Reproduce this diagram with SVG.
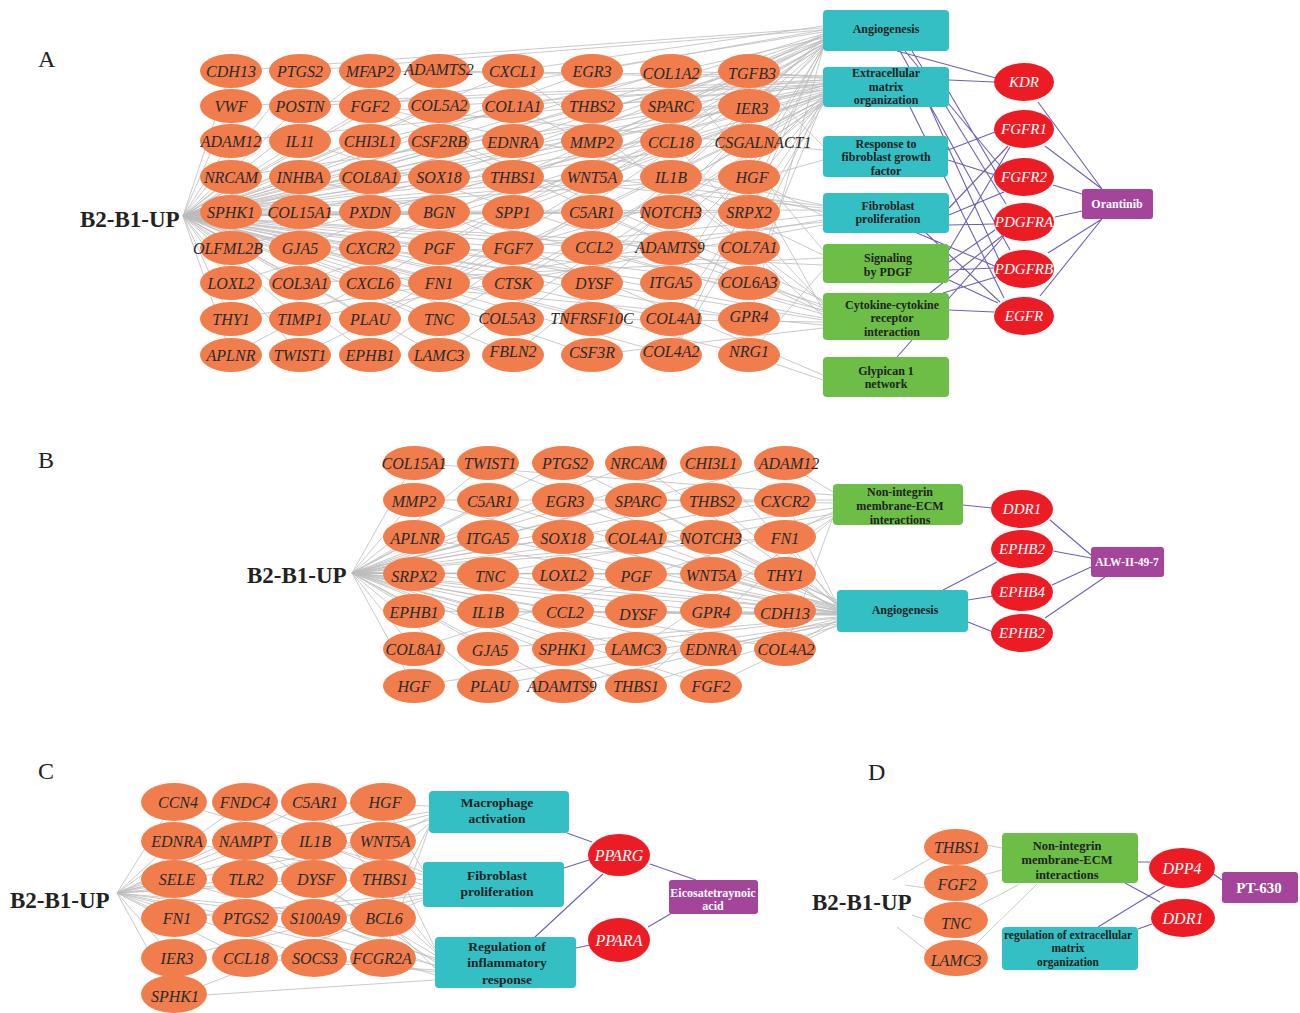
<svg xmlns="http://www.w3.org/2000/svg" width="1300" height="1013" viewBox="0 0 1300 1013">
<style>
.e{stroke:#bdbdbd;stroke-width:.8;fill:none}
.p{stroke:#6c61b8;stroke-width:1.1;fill:none}
.o{fill:#F27D4C}
.r{fill:#ED1C24}
.t{fill:#33BFC3}
.gr{fill:#6CBE46}
.pu{fill:#A4449A}
.gt{font-family:'Liberation Serif',serif;font-style:italic;font-size:16px;fill:#2a2a2a;text-anchor:middle;dominant-baseline:central}
.rt{font-family:'Liberation Serif',serif;font-style:italic;font-size:15px;fill:#fff;text-anchor:middle;dominant-baseline:central}
.bt{font-family:'Liberation Serif',serif;font-weight:bold;font-size:12px;fill:#222;text-anchor:middle}
.wt{font-family:'Liberation Serif',serif;font-weight:bold;font-size:12px;fill:#fff;text-anchor:middle}
.hub{font-family:'Liberation Serif',serif;font-weight:bold;font-size:23px;fill:#222}
.pl{font-family:'Liberation Serif',serif;font-size:24px;fill:#222}
</style>
<rect width="1300" height="1013" fill="#fff"/>
<g id="connectors">
<path class="e" d="M183 216L231 71M183 216L231 106M183 216L231 141M183 216L231 177M183 216L231 212M183 216L231 248M183 216L231 283M183 216L231 319M183 216L231 355M183 216L300 71M183 216L300 106M183 216L300 141M183 216L300 177M183 216L300 212M183 216L300 248M183 216L300 283M183 216L300 319M183 216L300 355M183 216L370 71M183 216L370 106M183 216L370 141M183 216L370 177M183 216L370 212M183 216L370 248M183 216L370 283M183 216L370 319M183 216L370 355M183 216L439 71M183 216L439 106M183 216L439 141M183 216L439 177M183 216L439 212M183 216L439 248M183 216L439 283M183 216L439 319M183 216L439 355M183 216L513 71M183 216L513 106M183 216L513 141M183 216L513 177M183 216L513 212M183 216L513 248M183 216L513 283M183 216L513 319M183 216L513 355M183 216L592 71M183 216L592 106M183 216L592 141M183 216L592 177M183 216L592 212M183 216L592 248M183 216L592 283M183 216L592 319M183 216L592 355M183 216L671 71M183 216L671 106M183 216L671 141M183 216L671 177M183 216L671 212M183 216L671 248M183 216L671 283M183 216L671 319M183 216L671 355M183 216L749 71M183 216L749 106M183 216L749 141M183 216L749 177M183 216L749 212M183 216L749 248M183 216L749 283M183 216L749 319M183 216L749 355"/>
<path class="e" d="M231 71L823 28M231 106L823 80M231 141L823 84M231 177L823 90M231 212L823 34M231 212L823 210M231 248L823 94M231 283L823 98M231 319L823 220M231 355L823 40M300 71L823 30M300 106L823 82M300 141L823 305M300 177L823 310M300 212L823 88M300 248L823 36M300 283L823 95M300 283L823 258M300 319L823 225M300 355L823 100M370 71L823 78M370 106L823 32M370 106L823 150M370 106L823 205M370 106L823 300M370 141L823 38M370 177L823 86M370 212L823 92M370 248L823 42M370 248L823 320M370 283L823 325M370 319L823 44M370 355L823 46M439 71L823 76M439 106L823 84M439 141L823 312M439 177L823 40M439 212L823 96M439 212L823 375M439 248L823 45M439 248L823 265M439 248L823 318M439 283L823 47M439 283L823 100M439 319L823 102M439 355L823 104M513 71L823 302M513 71L823 26M513 106L823 80M513 106L823 255M513 141L823 36M513 177L823 40M513 177L823 208M513 212L823 94M513 248L823 160M513 248L823 215M513 283L823 98M513 319L823 102M513 355L823 104M592 71L823 30M592 106L823 86M592 141L823 90M592 141L823 42M592 177L823 206M592 177L823 44M592 212L823 308M592 248L823 46M592 248L823 314M592 248L823 222M592 283L823 48M592 319L823 322M592 355L823 328M671 71L823 76M671 71L823 250M671 106L823 84M671 106L823 36M671 141L823 304M671 177L823 38M671 177L823 212M671 177L823 316M671 212L823 45M671 248L823 96M671 283L823 48M671 283L823 100M671 319L823 102M671 355L823 105M671 355L823 49M749 71L823 34M749 71L823 78M749 71L823 146M749 106L823 40M749 106L823 86M749 141L823 92M749 177L823 46M749 177L823 216M749 177L823 310M749 212L823 48M749 248L823 98M749 283L823 101M749 319L823 49M749 355L823 270M749 355L823 380"/>
<path class="p" d="M1038 102L1102 189M1045 146L1102 189M1053 185L1082 194M1055 217L1082 211M1048 253L1102 219M1040 296L1102 219M897 51L996 78M905 51L1002 168M912 51L1006 204M900 51L1010 250M949 80L994 82M949 92L996 172M910 107L1004 298M930 107L1000 262M948 150L995 132M948 160L995 175M949 208L1008 146M949 225L994 224M949 215L1004 192M917 233L997 267M926 233L1000 302M949 250L1010 147M949 262L995 230M949 270L994 268M949 280L998 303M943 293L996 277M930 293L1002 236M949 310L994 312M897 357L1004 236"/>
<path class="e" d="M352 573L414 463M352 573L414 500M352 573L414 537M352 573L414 574M352 573L414 611M352 573L414 649M352 573L414 686M352 573L488 463M352 573L488 500M352 573L488 537M352 573L488 574M352 573L488 611M352 573L488 649M352 573L488 686M352 573L563 463M352 573L563 500M352 573L563 537M352 573L563 574M352 573L563 611M352 573L563 649M352 573L563 686M352 573L636 463M352 573L636 500M352 573L636 537M352 573L636 574M352 573L636 611M352 573L636 649M352 573L636 686M352 573L711 463M352 573L711 500M352 573L711 537M352 573L711 574M352 573L711 611M352 573L711 649M352 573L711 686M352 573L785 463M352 573L785 500M352 573L785 537M352 573L785 574M352 573L785 611M352 573L785 649"/>
<path class="e" d="M414 463L833 495M488 463L837 600M563 463L837 602M636 463L837 604M711 463L837 603M785 463L833 492M414 500L833 500M414 500L837 606M488 500L837 608M563 500L837 606M636 500L833 503M636 500L837 608M711 500L837 605M785 500L837 604M414 537L837 610M488 537L837 611M563 537L837 609M636 537L833 508M636 537L837 610M711 537L837 609M785 537L833 512M785 537L837 607M414 574L837 612M488 574L833 514M488 574L837 613M563 574L837 612M636 574L837 613M711 574L837 611M785 574L837 612M414 611L837 615M488 611L837 614M563 611L837 615M636 611L837 614M711 611L837 614M785 611L837 613M414 649L833 516M488 649L837 617M563 649L837 618M636 649L833 518M711 649L837 619M785 649L833 517M785 649L837 620M414 686L837 622M488 686L837 624M563 686L837 622M636 686L833 519M636 686L837 626M711 686L837 625"/>
<path class="p" d="M963 505L992 508M1050 520L1091 555M1053 551L1091 558M1052 585L1091 567M1045 618L1105 577M943 590L997 562M968 600L993 596M968 622L993 632"/>
<path class="e" d="M117 893L174 802M117 893L174 841M117 893L174 879M117 893L174 918M117 893L174 958M117 893L174 997M117 893L245 802M117 893L245 841M117 893L245 879M117 893L245 918M117 893L245 958M117 893L314 802M117 893L314 841M117 893L314 879M117 893L314 918M117 893L314 958M117 893L383 802M117 893L383 841M117 893L383 879M117 893L383 918M117 893L383 958"/>
<path class="e" d="M174 802L423 875M245 802L423 872M314 802L429 806M314 802L435 950M383 802L423 870M174 841L423 880M245 841L429 812M245 841L435 955M314 841L429 815M314 841L423 885M314 841L435 952M383 841L435 948M383 841L429 818M174 879L435 958M245 879L429 820M245 879L435 960M314 879L435 962M383 879L423 890M174 918L423 893M245 918L435 965M245 918L423 895M314 918L429 824M314 918L435 966M383 918L435 968M383 918L429 826M174 958L423 898M245 958L435 970M314 958L435 972M383 958L429 828M383 958L435 975M174 997L423 900M174 997L435 980"/>
<path class="p" d="M567 833L592 842M564 868L589 860M535 937L603 874M576 948L590 945M650 864L696 880M648 927L672 913"/>
<path class="e" d="M893 880L933 857M905 885L926 888M912 915L927 920M897 927L930 953M986 845L1002 848M983 875L1002 870M978 906L1020 884M975 945L1037 884"/>
<path class="p" d="M1138 862L1150 862M1125 883L1160 902M1098 927L1165 886M1138 929L1152 924M1212 873L1222 880"/>
</g>
<g id="labels">
<text class="pl" x="38" y="67">A</text>
<text class="pl" x="38" y="468">B</text>
<text class="pl" x="38" y="779">C</text>
<text class="pl" x="868" y="780">D</text>
</g>
<!-- Panel A -->
<g id="a-hub"><text class="hub" x="80" y="227">B2-B1-UP</text></g>
<g id="a-CDH13"><ellipse class="o" cx="231" cy="71" rx="31" ry="17"/><text class="gt" x="231" y="71">CDH13</text></g>
<g id="a-VWF"><ellipse class="o" cx="231" cy="106" rx="31" ry="17"/><text class="gt" x="231" y="106">VWF</text></g>
<g id="a-ADAM12"><ellipse class="o" cx="231" cy="141" rx="31" ry="17"/><text class="gt" x="231" y="141">ADAM12</text></g>
<g id="a-NRCAM"><ellipse class="o" cx="231" cy="177" rx="31" ry="17"/><text class="gt" x="231" y="177">NRCAM</text></g>
<g id="a-SPHK1"><ellipse class="o" cx="231" cy="212" rx="31" ry="17"/><text class="gt" x="231" y="212">SPHK1</text></g>
<g id="a-OLFML2B"><ellipse class="o" cx="231" cy="248" rx="31" ry="17"/><text class="gt" x="228" y="248">OLFML2B</text></g>
<g id="a-LOXL2"><ellipse class="o" cx="231" cy="283" rx="31" ry="17"/><text class="gt" x="231" y="283">LOXL2</text></g>
<g id="a-THY1"><ellipse class="o" cx="231" cy="319" rx="31" ry="17"/><text class="gt" x="231" y="319">THY1</text></g>
<g id="a-APLNR"><ellipse class="o" cx="231" cy="355" rx="31" ry="17"/><text class="gt" x="231" y="355">APLNR</text></g>
<g id="a-PTGS2"><ellipse class="o" cx="300" cy="71" rx="31" ry="17"/><text class="gt" x="300" y="71">PTGS2</text></g>
<g id="a-POSTN"><ellipse class="o" cx="300" cy="106" rx="31" ry="17"/><text class="gt" x="300" y="106">POSTN</text></g>
<g id="a-IL11"><ellipse class="o" cx="300" cy="141" rx="31" ry="17"/><text class="gt" x="300" y="141">IL11</text></g>
<g id="a-INHBA"><ellipse class="o" cx="300" cy="177" rx="31" ry="17"/><text class="gt" x="300" y="177">INHBA</text></g>
<g id="a-COL15A1"><ellipse class="o" cx="300" cy="212" rx="31" ry="17"/><text class="gt" x="300" y="212">COL15A1</text></g>
<g id="a-GJA5"><ellipse class="o" cx="300" cy="248" rx="31" ry="17"/><text class="gt" x="300" y="248">GJA5</text></g>
<g id="a-COL3A1"><ellipse class="o" cx="300" cy="283" rx="31" ry="17"/><text class="gt" x="300" y="283">COL3A1</text></g>
<g id="a-TIMP1"><ellipse class="o" cx="300" cy="319" rx="31" ry="17"/><text class="gt" x="300" y="319">TIMP1</text></g>
<g id="a-TWIST1"><ellipse class="o" cx="300" cy="355" rx="31" ry="17"/><text class="gt" x="300" y="355">TWIST1</text></g>
<g id="a-MFAP2"><ellipse class="o" cx="370" cy="71" rx="31" ry="17"/><text class="gt" x="370" y="71">MFAP2</text></g>
<g id="a-FGF2"><ellipse class="o" cx="370" cy="106" rx="31" ry="17"/><text class="gt" x="370" y="106">FGF2</text></g>
<g id="a-CHI3L1"><ellipse class="o" cx="370" cy="141" rx="31" ry="17"/><text class="gt" x="370" y="141">CHI3L1</text></g>
<g id="a-COL8A1"><ellipse class="o" cx="370" cy="177" rx="31" ry="17"/><text class="gt" x="370" y="177">COL8A1</text></g>
<g id="a-PXDN"><ellipse class="o" cx="370" cy="212" rx="31" ry="17"/><text class="gt" x="370" y="212">PXDN</text></g>
<g id="a-CXCR2"><ellipse class="o" cx="370" cy="248" rx="31" ry="17"/><text class="gt" x="370" y="248">CXCR2</text></g>
<g id="a-CXCL6"><ellipse class="o" cx="370" cy="283" rx="31" ry="17"/><text class="gt" x="370" y="283">CXCL6</text></g>
<g id="a-PLAU"><ellipse class="o" cx="370" cy="319" rx="31" ry="17"/><text class="gt" x="370" y="319">PLAU</text></g>
<g id="a-EPHB1"><ellipse class="o" cx="370" cy="355" rx="31" ry="17"/><text class="gt" x="370" y="355">EPHB1</text></g>
<g id="a-ADAMTS2"><ellipse class="o" cx="439" cy="71" rx="31" ry="17"/><text class="gt" x="439" y="69">ADAMTS2</text></g>
<g id="a-COL5A2"><ellipse class="o" cx="439" cy="106" rx="31" ry="17"/><text class="gt" x="439" y="105">COL5A2</text></g>
<g id="a-CSF2RB"><ellipse class="o" cx="439" cy="141" rx="31" ry="17"/><text class="gt" x="439" y="141">CSF2RB</text></g>
<g id="a-SOX18"><ellipse class="o" cx="439" cy="177" rx="31" ry="17"/><text class="gt" x="439" y="177">SOX18</text></g>
<g id="a-BGN"><ellipse class="o" cx="439" cy="212" rx="31" ry="17"/><text class="gt" x="439" y="212">BGN</text></g>
<g id="a-PGF"><ellipse class="o" cx="439" cy="248" rx="31" ry="17"/><text class="gt" x="439" y="248">PGF</text></g>
<g id="a-FN1"><ellipse class="o" cx="439" cy="283" rx="31" ry="17"/><text class="gt" x="439" y="283">FN1</text></g>
<g id="a-TNC"><ellipse class="o" cx="439" cy="319" rx="31" ry="17"/><text class="gt" x="439" y="319">TNC</text></g>
<g id="a-LAMC3"><ellipse class="o" cx="439" cy="355" rx="31" ry="17"/><text class="gt" x="439" y="355">LAMC3</text></g>
<g id="a-CXCL1"><ellipse class="o" cx="513" cy="71" rx="31" ry="17"/><text class="gt" x="513" y="71">CXCL1</text></g>
<g id="a-COL1A1"><ellipse class="o" cx="513" cy="106" rx="31" ry="17"/><text class="gt" x="513" y="106">COL1A1</text></g>
<g id="a-EDNRA"><ellipse class="o" cx="513" cy="141" rx="31" ry="17"/><text class="gt" x="513" y="142">EDNRA</text></g>
<g id="a-THBS1"><ellipse class="o" cx="513" cy="177" rx="31" ry="17"/><text class="gt" x="513" y="177">THBS1</text></g>
<g id="a-SPP1"><ellipse class="o" cx="513" cy="212" rx="31" ry="17"/><text class="gt" x="513" y="212">SPP1</text></g>
<g id="a-FGF7"><ellipse class="o" cx="513" cy="248" rx="31" ry="17"/><text class="gt" x="513" y="248">FGF7</text></g>
<g id="a-CTSK"><ellipse class="o" cx="513" cy="283" rx="31" ry="17"/><text class="gt" x="513" y="283">CTSK</text></g>
<g id="a-COL5A3"><ellipse class="o" cx="513" cy="319" rx="31" ry="17"/><text class="gt" x="507" y="318">COL5A3</text></g>
<g id="a-FBLN2"><ellipse class="o" cx="513" cy="355" rx="31" ry="17"/><text class="gt" x="513" y="351">FBLN2</text></g>
<g id="a-EGR3"><ellipse class="o" cx="592" cy="71" rx="31" ry="17"/><text class="gt" x="592" y="71">EGR3</text></g>
<g id="a-THBS2"><ellipse class="o" cx="592" cy="106" rx="31" ry="17"/><text class="gt" x="592" y="106">THBS2</text></g>
<g id="a-MMP2"><ellipse class="o" cx="592" cy="141" rx="31" ry="17"/><text class="gt" x="592" y="142">MMP2</text></g>
<g id="a-WNT5A"><ellipse class="o" cx="592" cy="177" rx="31" ry="17"/><text class="gt" x="592" y="177">WNT5A</text></g>
<g id="a-C5AR1"><ellipse class="o" cx="592" cy="212" rx="31" ry="17"/><text class="gt" x="592" y="212">C5AR1</text></g>
<g id="a-CCL2"><ellipse class="o" cx="592" cy="248" rx="31" ry="17"/><text class="gt" x="594" y="247">CCL2</text></g>
<g id="a-DYSF"><ellipse class="o" cx="592" cy="283" rx="31" ry="17"/><text class="gt" x="594" y="283">DYSF</text></g>
<g id="a-TNFRSF10C"><ellipse class="o" cx="592" cy="319" rx="31" ry="17"/><text class="gt" x="592" y="318">TNFRSF10C</text></g>
<g id="a-CSF3R"><ellipse class="o" cx="592" cy="355" rx="31" ry="17"/><text class="gt" x="592" y="352">CSF3R</text></g>
<g id="a-COL1A2"><ellipse class="o" cx="671" cy="71" rx="31" ry="17"/><text class="gt" x="671" y="73">COL1A2</text></g>
<g id="a-SPARC"><ellipse class="o" cx="671" cy="106" rx="31" ry="17"/><text class="gt" x="671" y="106">SPARC</text></g>
<g id="a-CCL18"><ellipse class="o" cx="671" cy="141" rx="31" ry="17"/><text class="gt" x="671" y="142">CCL18</text></g>
<g id="a-IL1B"><ellipse class="o" cx="671" cy="177" rx="31" ry="17"/><text class="gt" x="671" y="177">IL1B</text></g>
<g id="a-NOTCH3"><ellipse class="o" cx="671" cy="212" rx="31" ry="17"/><text class="gt" x="671" y="212">NOTCH3</text></g>
<g id="a-ADAMTS9"><ellipse class="o" cx="671" cy="248" rx="31" ry="17"/><text class="gt" x="670" y="247">ADAMTS9</text></g>
<g id="a-ITGA5"><ellipse class="o" cx="671" cy="283" rx="31" ry="17"/><text class="gt" x="671" y="282">ITGA5</text></g>
<g id="a-COL4A1"><ellipse class="o" cx="671" cy="319" rx="31" ry="17"/><text class="gt" x="674" y="318">COL4A1</text></g>
<g id="a-COL4A2"><ellipse class="o" cx="671" cy="355" rx="31" ry="17"/><text class="gt" x="671" y="351">COL4A2</text></g>
<g id="a-TGFB3"><ellipse class="o" cx="749" cy="71" rx="31" ry="17"/><text class="gt" x="752" y="73">TGFB3</text></g>
<g id="a-IER3"><ellipse class="o" cx="749" cy="106" rx="31" ry="17"/><text class="gt" x="752" y="108">IER3</text></g>
<g id="a-CSGALNACT1"><ellipse class="o" cx="749" cy="141" rx="31" ry="17"/><text class="gt" x="763" y="142">CSGALNACT1</text></g>
<g id="a-HGF"><ellipse class="o" cx="749" cy="177" rx="31" ry="17"/><text class="gt" x="752" y="177">HGF</text></g>
<g id="a-SRPX2"><ellipse class="o" cx="749" cy="212" rx="31" ry="17"/><text class="gt" x="749" y="212">SRPX2</text></g>
<g id="a-COL7A1"><ellipse class="o" cx="749" cy="248" rx="31" ry="17"/><text class="gt" x="749" y="247">COL7A1</text></g>
<g id="a-COL6A3"><ellipse class="o" cx="749" cy="283" rx="31" ry="17"/><text class="gt" x="749" y="282">COL6A3</text></g>
<g id="a-GPR4"><ellipse class="o" cx="749" cy="319" rx="31" ry="17"/><text class="gt" x="749" y="316">GPR4</text></g>
<g id="a-NRG1"><ellipse class="o" cx="749" cy="355" rx="31" ry="17"/><text class="gt" x="749" y="351">NRG1</text></g>
<g id="a-angiogenesis"><rect class="t" x="823" y="10" width="126" height="41" rx="4"/><text class="bt" x="886" y="33">Angiogenesis</text></g>
<g id="a-ecm"><rect class="t" x="823" y="67" width="126" height="40" rx="4"/><text class="bt"><tspan x="886" y="77">Extracellular</tspan><tspan x="886" y="91">matrix</tspan><tspan x="886" y="104">organization</tspan></text></g>
<g id="a-rfgf"><rect class="t" x="823" y="136" width="125" height="41" rx="4"/><text class="bt"><tspan x="886" y="148">Response to</tspan><tspan x="886" y="161">fibroblast growth</tspan><tspan x="886" y="175">factor</tspan></text></g>
<g id="a-fp"><rect class="t" x="823" y="193" width="126" height="40" rx="4"/><text class="bt"><tspan x="888" y="210">Fibroblast</tspan><tspan x="888" y="223">proliferation</tspan></text></g>
<g id="a-pdgf"><rect class="gr" x="823" y="244" width="126" height="39" rx="4"/><text class="bt"><tspan x="888" y="262">Signaling</tspan><tspan x="888" y="276">by PDGF</tspan></text></g>
<g id="a-ccr"><rect class="gr" x="823" y="293" width="126" height="47" rx="4"/><text class="bt"><tspan x="892" y="309">Cytokine-cytokine</tspan><tspan x="892" y="322">receptor</tspan><tspan x="892" y="336">interaction</tspan></text></g>
<g id="a-glypican"><rect class="gr" x="823" y="357" width="126" height="40" rx="4"/><text class="bt"><tspan x="886" y="375">Glypican 1</tspan><tspan x="886" y="388">network</tspan></text></g>
<g id="a-KDR"><ellipse class="r" cx="1024" cy="82" rx="30" ry="19"/><text class="rt" x="1024" y="82">KDR</text></g>
<g id="a-FGFR1"><ellipse class="r" cx="1024" cy="129" rx="30" ry="19"/><text class="rt" x="1024" y="129">FGFR1</text></g>
<g id="a-FGFR2"><ellipse class="r" cx="1024" cy="177" rx="30" ry="19"/><text class="rt" x="1024" y="177">FGFR2</text></g>
<g id="a-PDGFRA"><ellipse class="r" cx="1024" cy="222" rx="30" ry="19"/><text class="rt" x="1024" y="222">PDGFRA</text></g>
<g id="a-PDGFRB"><ellipse class="r" cx="1024" cy="269" rx="30" ry="19"/><text class="rt" x="1024" y="269">PDGFRB</text></g>
<g id="a-EGFR"><ellipse class="r" cx="1024" cy="316" rx="30" ry="19"/><text class="rt" x="1024" y="316">EGFR</text></g>
<g id="a-orantinib"><rect class="pu" x="1082" y="189" width="71" height="30" rx="3"/><text class="wt" x="1117" y="208">Orantinib</text></g>
<!-- Panel B -->
<g id="b-hub"><text class="hub" x="247" y="583">B2-B1-UP</text></g>
<g id="b-COL15A1"><ellipse class="o" cx="414" cy="463" rx="31" ry="17"/><text class="gt" x="414" y="463">COL15A1</text></g>
<g id="b-TWIST1"><ellipse class="o" cx="488" cy="463" rx="31" ry="17"/><text class="gt" x="490" y="463">TWIST1</text></g>
<g id="b-PTGS2"><ellipse class="o" cx="563" cy="463" rx="31" ry="17"/><text class="gt" x="565" y="463">PTGS2</text></g>
<g id="b-NRCAM"><ellipse class="o" cx="636" cy="463" rx="31" ry="17"/><text class="gt" x="637" y="463">NRCAM</text></g>
<g id="b-CHI3L1"><ellipse class="o" cx="711" cy="463" rx="31" ry="17"/><text class="gt" x="711" y="463">CHI3L1</text></g>
<g id="b-ADAM12"><ellipse class="o" cx="785" cy="463" rx="31" ry="17"/><text class="gt" x="789" y="463">ADAM12</text></g>
<g id="b-MMP2"><ellipse class="o" cx="414" cy="500" rx="31" ry="17"/><text class="gt" x="414" y="501">MMP2</text></g>
<g id="b-C5AR1"><ellipse class="o" cx="488" cy="500" rx="31" ry="17"/><text class="gt" x="490" y="501">C5AR1</text></g>
<g id="b-EGR3"><ellipse class="o" cx="563" cy="500" rx="31" ry="17"/><text class="gt" x="565" y="501">EGR3</text></g>
<g id="b-SPARC"><ellipse class="o" cx="636" cy="500" rx="31" ry="17"/><text class="gt" x="638" y="501">SPARC</text></g>
<g id="b-THBS2"><ellipse class="o" cx="711" cy="500" rx="31" ry="17"/><text class="gt" x="712" y="501">THBS2</text></g>
<g id="b-CXCR2"><ellipse class="o" cx="785" cy="500" rx="31" ry="17"/><text class="gt" x="785" y="501">CXCR2</text></g>
<g id="b-APLNR"><ellipse class="o" cx="414" cy="537" rx="31" ry="17"/><text class="gt" x="415" y="538">APLNR</text></g>
<g id="b-ITGA5"><ellipse class="o" cx="488" cy="537" rx="31" ry="17"/><text class="gt" x="488" y="538">ITGA5</text></g>
<g id="b-SOX18"><ellipse class="o" cx="563" cy="537" rx="31" ry="17"/><text class="gt" x="563" y="538">SOX18</text></g>
<g id="b-COL4A1"><ellipse class="o" cx="636" cy="537" rx="31" ry="17"/><text class="gt" x="636" y="538">COL4A1</text></g>
<g id="b-NOTCH3"><ellipse class="o" cx="711" cy="537" rx="31" ry="17"/><text class="gt" x="711" y="538">NOTCH3</text></g>
<g id="b-FN1"><ellipse class="o" cx="785" cy="537" rx="31" ry="17"/><text class="gt" x="785" y="538">FN1</text></g>
<g id="b-SRPX2"><ellipse class="o" cx="414" cy="574" rx="31" ry="17"/><text class="gt" x="414" y="576">SRPX2</text></g>
<g id="b-TNC"><ellipse class="o" cx="488" cy="574" rx="31" ry="17"/><text class="gt" x="490" y="576">TNC</text></g>
<g id="b-LOXL2"><ellipse class="o" cx="563" cy="574" rx="31" ry="17"/><text class="gt" x="563" y="575">LOXL2</text></g>
<g id="b-PGF"><ellipse class="o" cx="636" cy="574" rx="31" ry="17"/><text class="gt" x="636" y="576">PGF</text></g>
<g id="b-WNT5A"><ellipse class="o" cx="711" cy="574" rx="31" ry="17"/><text class="gt" x="711" y="575">WNT5A</text></g>
<g id="b-THY1"><ellipse class="o" cx="785" cy="574" rx="31" ry="17"/><text class="gt" x="785" y="575">THY1</text></g>
<g id="b-EPHB1"><ellipse class="o" cx="414" cy="611" rx="31" ry="17"/><text class="gt" x="414" y="612">EPHB1</text></g>
<g id="b-IL1B"><ellipse class="o" cx="488" cy="611" rx="31" ry="17"/><text class="gt" x="488" y="612">IL1B</text></g>
<g id="b-CCL2"><ellipse class="o" cx="563" cy="611" rx="31" ry="17"/><text class="gt" x="565" y="612">CCL2</text></g>
<g id="b-DYSF"><ellipse class="o" cx="636" cy="611" rx="31" ry="17"/><text class="gt" x="638" y="614">DYSF</text></g>
<g id="b-GPR4"><ellipse class="o" cx="711" cy="611" rx="31" ry="17"/><text class="gt" x="711" y="612">GPR4</text></g>
<g id="b-CDH13"><ellipse class="o" cx="785" cy="611" rx="31" ry="17"/><text class="gt" x="785" y="613">CDH13</text></g>
<g id="b-COL8A1"><ellipse class="o" cx="414" cy="649" rx="31" ry="17"/><text class="gt" x="414" y="649">COL8A1</text></g>
<g id="b-GJA5"><ellipse class="o" cx="488" cy="649" rx="31" ry="17"/><text class="gt" x="490" y="650">GJA5</text></g>
<g id="b-SPHK1"><ellipse class="o" cx="563" cy="649" rx="31" ry="17"/><text class="gt" x="563" y="649">SPHK1</text></g>
<g id="b-LAMC3"><ellipse class="o" cx="636" cy="649" rx="31" ry="17"/><text class="gt" x="636" y="649">LAMC3</text></g>
<g id="b-EDNRA"><ellipse class="o" cx="711" cy="649" rx="31" ry="17"/><text class="gt" x="711" y="649">EDNRA</text></g>
<g id="b-COL4A2"><ellipse class="o" cx="785" cy="649" rx="31" ry="17"/><text class="gt" x="786" y="649">COL4A2</text></g>
<g id="b-HGF"><ellipse class="o" cx="414" cy="686" rx="31" ry="17"/><text class="gt" x="414" y="686">HGF</text></g>
<g id="b-PLAU"><ellipse class="o" cx="488" cy="686" rx="31" ry="17"/><text class="gt" x="490" y="686">PLAU</text></g>
<g id="b-ADAMTS9"><ellipse class="o" cx="563" cy="686" rx="31" ry="17"/><text class="gt" x="562" y="686">ADAMTS9</text></g>
<g id="b-THBS1"><ellipse class="o" cx="636" cy="686" rx="31" ry="17"/><text class="gt" x="636" y="686">THBS1</text></g>
<g id="b-FGF2"><ellipse class="o" cx="711" cy="686" rx="31" ry="17"/><text class="gt" x="711" y="686">FGF2</text></g>
<g id="b-nonintegrin"><rect class="gr" x="833" y="484" width="130" height="41" rx="4"/><text class="bt"><tspan x="900" y="496">Non-integrin</tspan><tspan x="900" y="510">membrane-ECM</tspan><tspan x="900" y="524">interactions</tspan></text></g>
<g id="b-angiogenesis"><rect class="t" x="837" y="590" width="131" height="42" rx="4"/><text class="bt" x="905" y="614">Angiogenesis</text></g>
<g id="b-DDR1"><ellipse class="r" cx="1022" cy="509" rx="31" ry="19"/><text class="rt" x="1022" y="509">DDR1</text></g>
<g id="b-EPHB2-1"><ellipse class="r" cx="1022" cy="549" rx="31" ry="19"/><text class="rt" x="1022" y="549">EPHB2</text></g>
<g id="b-EPHB4"><ellipse class="r" cx="1022" cy="592" rx="31" ry="19"/><text class="rt" x="1022" y="592">EPHB4</text></g>
<g id="b-EPHB2-2"><ellipse class="r" cx="1022" cy="633" rx="31" ry="19"/><text class="rt" x="1022" y="633">EPHB2</text></g>
<g id="b-alw"><rect class="pu" x="1091" y="547" width="73" height="30" rx="3"/><text class="wt" x="1127" y="566" style="font-size:11.5px">ALW-II-49-7</text></g>
<!-- Panel C -->
<g id="c-hub"><text class="hub" x="10" y="908">B2-B1-UP</text></g>
<g id="c-CCN4"><ellipse class="o" cx="174" cy="802" rx="33" ry="19"/><text class="gt" x="178" y="802">CCN4</text></g>
<g id="c-FNDC4"><ellipse class="o" cx="245" cy="802" rx="33" ry="19"/><text class="gt" x="245" y="802">FNDC4</text></g>
<g id="c-C5AR1"><ellipse class="o" cx="314" cy="802" rx="33" ry="19"/><text class="gt" x="315" y="802">C5AR1</text></g>
<g id="c-HGF"><ellipse class="o" cx="383" cy="802" rx="33" ry="19"/><text class="gt" x="385" y="802">HGF</text></g>
<g id="c-EDNRA"><ellipse class="o" cx="174" cy="841" rx="33" ry="19"/><text class="gt" x="177" y="841">EDNRA</text></g>
<g id="c-NAMPT"><ellipse class="o" cx="245" cy="841" rx="33" ry="19"/><text class="gt" x="245" y="841">NAMPT</text></g>
<g id="c-IL1B"><ellipse class="o" cx="314" cy="841" rx="33" ry="19"/><text class="gt" x="315" y="841">IL1B</text></g>
<g id="c-WNT5A"><ellipse class="o" cx="383" cy="841" rx="33" ry="19"/><text class="gt" x="385" y="841">WNT5A</text></g>
<g id="c-SELE"><ellipse class="o" cx="174" cy="879" rx="33" ry="19"/><text class="gt" x="177" y="879">SELE</text></g>
<g id="c-TLR2"><ellipse class="o" cx="245" cy="879" rx="33" ry="19"/><text class="gt" x="246" y="879">TLR2</text></g>
<g id="c-DYSF"><ellipse class="o" cx="314" cy="879" rx="33" ry="19"/><text class="gt" x="316" y="879">DYSF</text></g>
<g id="c-THBS1"><ellipse class="o" cx="383" cy="879" rx="33" ry="19"/><text class="gt" x="385" y="879">THBS1</text></g>
<g id="c-FN1"><ellipse class="o" cx="174" cy="918" rx="33" ry="19"/><text class="gt" x="177" y="918">FN1</text></g>
<g id="c-PTGS2"><ellipse class="o" cx="245" cy="918" rx="33" ry="19"/><text class="gt" x="246" y="918">PTGS2</text></g>
<g id="c-S100A9"><ellipse class="o" cx="314" cy="918" rx="33" ry="19"/><text class="gt" x="315" y="918">S100A9</text></g>
<g id="c-BCL6"><ellipse class="o" cx="383" cy="918" rx="33" ry="19"/><text class="gt" x="384" y="918">BCL6</text></g>
<g id="c-IER3"><ellipse class="o" cx="174" cy="958" rx="33" ry="19"/><text class="gt" x="177" y="958">IER3</text></g>
<g id="c-CCL18"><ellipse class="o" cx="245" cy="958" rx="33" ry="19"/><text class="gt" x="246" y="958">CCL18</text></g>
<g id="c-SOCS3"><ellipse class="o" cx="314" cy="958" rx="33" ry="19"/><text class="gt" x="315" y="958">SOCS3</text></g>
<g id="c-FCGR2A"><ellipse class="o" cx="383" cy="958" rx="33" ry="19"/><text class="gt" x="382" y="958">FCGR2A</text></g>
<g id="c-SPHK1"><ellipse class="o" cx="174" cy="994" rx="33" ry="19"/><text class="gt" x="175" y="996">SPHK1</text></g>
<g id="c-macrophage"><rect class="t" x="429" y="791" width="140" height="42" rx="4"/><text class="bt" style="font-size:13.5px"><tspan x="497" y="807">Macrophage</tspan><tspan x="497" y="823">activation</tspan></text></g>
<g id="c-fp"><rect class="t" x="423" y="862" width="141" height="45" rx="4"/><text class="bt" style="font-size:13.5px"><tspan x="497" y="880">Fibroblast</tspan><tspan x="497" y="896">proliferation</tspan></text></g>
<g id="c-regulation"><rect class="t" x="435" y="937" width="141" height="51" rx="4"/><text class="bt" style="font-size:13.5px"><tspan x="507" y="951">Regulation of</tspan><tspan x="507" y="967">inflammatory</tspan><tspan x="507" y="984">response</tspan></text></g>
<g id="c-PPARG"><ellipse class="r" cx="619" cy="855" rx="31" ry="21"/><text class="rt" x="619" y="855" style="font-size:16px">PPARG</text></g>
<g id="c-PPARA"><ellipse class="r" cx="619" cy="940" rx="31" ry="22"/><text class="rt" x="619" y="940" style="font-size:16px">PPARA</text></g>
<g id="c-eico"><rect class="pu" x="669" y="880" width="89" height="34" rx="3"/><text class="wt"><tspan x="713" y="897">Eicosatetraynoic</tspan><tspan x="713" y="910">acid</tspan></text></g>
<!-- Panel D -->
<g id="d-hub"><text class="hub" x="812" y="910">B2-B1-UP</text></g>
<g id="d-THBS1"><ellipse class="o" cx="956" cy="847" rx="32" ry="18"/><text class="gt" x="957" y="847">THBS1</text></g>
<g id="d-FGF2"><ellipse class="o" cx="956" cy="883" rx="32" ry="18"/><text class="gt" x="957" y="884">FGF2</text></g>
<g id="d-TNC"><ellipse class="o" cx="956" cy="920" rx="32" ry="18"/><text class="gt" x="956" y="923">TNC</text></g>
<g id="d-LAMC3"><ellipse class="o" cx="956" cy="958" rx="32" ry="18"/><text class="gt" x="956" y="960">LAMC3</text></g>
<g id="d-nonintegrin"><rect class="gr" x="1002" y="833" width="136" height="50" rx="4"/><text class="bt" style="font-size:12.5px"><tspan x="1067" y="850">Non-integrin</tspan><tspan x="1067" y="864">membrane-ECM</tspan><tspan x="1067" y="879">interactions</tspan></text></g>
<g id="d-regulation"><rect class="t" x="1002" y="927" width="136" height="43" rx="4"/><text class="bt" style="font-size:11.5px"><tspan x="1068" y="939">regulation of extracellular</tspan><tspan x="1068" y="952">matrix</tspan><tspan x="1068" y="966">organization</tspan></text></g>
<g id="d-DPP4"><ellipse class="r" cx="1182" cy="868" rx="33" ry="20"/><text class="rt" x="1182" y="868" style="font-size:16px">DPP4</text></g>
<g id="d-DDR1"><ellipse class="r" cx="1183" cy="918" rx="32" ry="19"/><text class="rt" x="1183" y="918" style="font-size:16px">DDR1</text></g>
<g id="d-pt630"><rect class="pu" x="1222" y="872" width="76" height="31" rx="3"/><text class="wt" x="1259" y="893" style="font-size:15px">PT-630</text></g>
</svg>
